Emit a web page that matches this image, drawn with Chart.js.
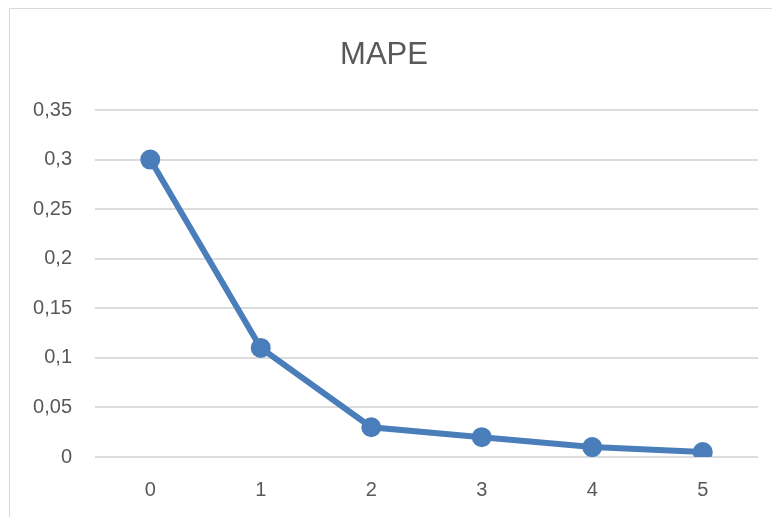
<!DOCTYPE html>
<html>
<head>
<meta charset="utf-8">
<script src="https://cdn.jsdelivr.net/npm/chart.js@4/dist/chart.umd.min.js"></script>
<style>
  html, body { margin: 0; padding: 0; background: #fff; overflow: hidden; }
  #frame { position: absolute; left: 9px; top: 8px; width: 800px; height: 600px; border: 1px solid #d9d9d9; }
  #wrap { position: absolute; left: 0; top: 0; width: 772px; height: 517px; }
</style>
</head>
<body>
<div id="frame"></div>
<div id="wrap"><canvas id="chart" width="772" height="517"></canvas></div>
<script>
// MAPE par étape
const categories = ['0', '1', '2', '3', '4', '5'];
const mapeValues = [0.3, 0.11, 0.03, 0.02, 0.01, 0.005];
const yTickLabels = ['0', '0,05', '0,1', '0,15', '0,2', '0,25', '0,3', '0,35'];

const FONT = "'Liberation Sans', sans-serif";
const GREY = '#595959';

new Chart(document.getElementById('chart'), {
    type: 'line',
    data: {
        labels: categories,
        datasets: [{
            label: 'MAPE',
            data: mapeValues,
            borderColor: '#4a7ebb',
            backgroundColor: '#4a7ebb',
            borderWidth: 6,
            pointRadius: 7,
            pointHoverRadius: 7,
            tension: 0
        }]
    },
    options: {
        responsive: false,
        animation: false,
        layout: { padding: { left: 10, right: 14, top: 0, bottom: 0 } },
        plugins: {
            legend: { display: false },
            tooltip: { enabled: false },
            title: {
                display: true,
                text: 'MAPE',
                color: GREY,
                font: { family: FONT, size: 31, weight: 'normal', lineHeight: 1.2 },
                padding: { top: 36.4, bottom: 36.4 }
            }
        },
        scales: {
            x: {
                offset: true,
                grid: { display: false, drawTicks: false },
                border: { display: false },
                ticks: { color: GREY, font: { family: FONT, size: 20 }, padding: 21 },
                afterFit: (scale) => { scale.height = 60; }
            },
            y: {
                min: 0,
                max: 0.35,
                grid: { color: '#dcdcdc', lineWidth: 2, drawTicks: false },
                border: { display: false },
                ticks: {
                    stepSize: 0.05,
                    color: GREY,
                    font: { family: FONT, size: 20 },
                    padding: 23,
                    callback: (value, index) => yTickLabels[index]
                },
                afterFit: (scale) => { scale.width = 85; }
            }
        }
    }
});
</script>
</body>
</html>
